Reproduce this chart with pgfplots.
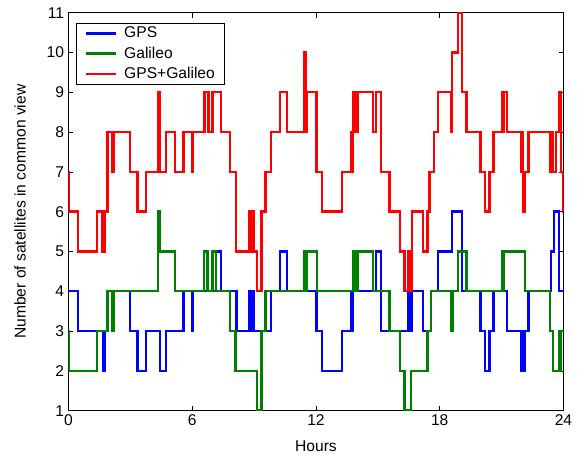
\documentclass[border=0pt]{standalone}
\usepackage{fontspec}
\setmainfont{Liberation Sans}
\usepackage{pgfplots}
\pgfplotsset{compat=1.18}
\definecolor{mblue}{rgb}{0,0,1}
\definecolor{mgreen}{rgb}{0,0.5,0}
\definecolor{mred}{rgb}{1,0,0}
\newcommand{\ff}{\fontsize{15.6bp}{18bp}\selectfont}
\begin{document}
\ff
\begin{tikzpicture}
\path[use as bounding box] (-68.5bp,-46.3bp) rectangle (516.5bp,410.7bp);
\begin{axis}[
  at={(0,0)}, anchor=south west,
  scale only axis, width=495bp, height=398bp,
  xmin=0, xmax=24, ymin=1, ymax=11,
  xtick={0,6,12,18,24}, ytick={1,2,3,4,5,6,7,8,9,10,11},
  tick align=inside, major tick length=5bp,
  every tick/.style={black, line width=0.6bp},
  axis line style={line width=0.8bp},
  /pgf/number format/assume math mode=true,
  ticklabel style={font=\ff},
  xticklabel style={yshift=1bp},
  yticklabel style={xshift=1bp},
  xlabel={Hours}, ylabel={Number of satellites in common view},
  xlabel style={at={(axis description cs:0.5,0)}, anchor=center, yshift=-36bp, font=\ff},
  ylabel style={at={(axis description cs:-0.098,0.5)}, anchor=center, font=\ff},
  legend style={at={(axis description cs:0.016,0.975)}, anchor=north west, draw=black, line width=0.8bp,
    font=\ff, row sep=2.5bp, inner xsep=8bp, inner ysep=2bp,
    cells={anchor=west}},
  legend image code/.code={\draw[#1, line width=2.4bp] (0bp,0bp) -- (30bp,0bp); \path (35bp,0bp);},
  every axis plot/.append style={const plot mark left, line width=2.4bp, mark=none},
]
\addplot[mblue] coordinates {
(0,4) (0.45,3) (1.66,2) (1.72,3) (1.74,2) (1.78,3) (1.90,4) (2.98,3) (3.35,2) (3.76,3)
(4.44,2) (4.73,3) (5.57,4) (6.00,3) (6.04,4) (7.15,5) (7.38,4) (8.15,3) (8.75,4) (8.80,3)
(8.83,4) (8.92,3) (8.95,4) (8.99,3) (9.83,4) (10.25,5) (10.58,4) (12.03,3) (12.29,2) (13.26,3)
(13.72,4) (13.75,3) (13.79,4) (14.92,5) (15.15,3) (16.46,4) (16.50,3) (16.55,4) (16.60,3) (16.64,4)
(17.19,3) (17.59,4) (17.92,5) (18.59,6) (19.08,4) (19.97,3) (20.18,2) (20.42,3) (20.61,4) (21.25,3)
(21.94,2) (21.98,3) (22.02,2) (22.10,3) (22.31,4) (23.39,5) (23.55,6) (23.77,4) (24,4)
};
\addlegendentry{GPS}
\addplot[mgreen] coordinates {
(0,3) (0.03,2) (1.37,3) (1.90,4) (2.14,3) (2.19,4) (4.35,6) (4.44,5) (5.16,4) (6.57,5)
(6.73,4) (6.99,5) (7.15,4) (7.82,3) (8.10,2) (9.15,1) (9.35,3) (9.56,4) (11.45,5) (11.50,4)
(11.55,5) (12.06,4) (13.79,5) (13.85,4) (13.88,5) (13.91,4) (14.04,5) (14.76,4) (15.57,3) (16.06,2)
(16.30,1) (16.62,2) (17.40,3) (17.59,4) (18.56,3) (18.61,4) (18.88,5) (19.29,4) (21.02,5) (21.06,4)
(21.10,5) (22.12,4) (23.35,3) (23.48,2) (23.77,3) (23.84,2) (23.88,3) (24,3)
};
\addlegendentry{Galileo}
\addplot[mred] coordinates {
(0,7) (0.03,6) (0.45,5) (1.37,6) (1.62,5) (1.68,6) (1.72,5) (1.78,6) (1.90,8) (2.14,7)
(2.20,8) (2.98,7) (3.35,6) (3.76,7) (4.35,9) (4.44,7) (4.73,8) (5.16,7) (5.57,8) (6.00,7)
(6.04,8) (6.60,9) (6.78,8) (6.99,9) (7.38,8) (7.82,7) (8.11,5) (8.75,6) (8.80,5) (8.83,6)
(8.92,5) (8.95,6) (8.99,5) (9.15,4) (9.35,6) (9.56,7) (9.83,8) (10.25,9) (10.58,8) (11.45,10)
(11.50,8) (11.55,9) (12.03,7) (12.29,6) (13.26,7) (13.72,8) (13.75,7) (13.79,9) (13.85,8) (13.88,9)
(13.91,8) (14.04,9) (14.76,8) (14.92,9) (15.15,7) (15.57,6) (16.06,5) (16.30,4) (16.46,5) (16.50,4)
(16.55,5) (16.60,4) (16.64,6) (17.19,5) (17.40,6) (17.51,7) (17.71,8) (17.92,9) (18.55,8) (18.60,10)
(18.88,11) (19.08,9) (19.29,8) (19.97,7) (20.18,6) (20.42,7) (20.61,8) (21.02,9) (21.06,8) (21.10,9)
(21.25,8) (21.94,7) (21.98,8) (22.02,7) (22.06,6) (22.10,7) (22.31,8) (23.35,7) (23.40,8) (23.43,7)
(23.47,8) (23.50,7) (23.64,8) (23.77,9) (23.88,7) (23.97,6) (24,6)
};
\addlegendentry{GPS+Galileo}
\end{axis}
\end{tikzpicture}
\end{document}
